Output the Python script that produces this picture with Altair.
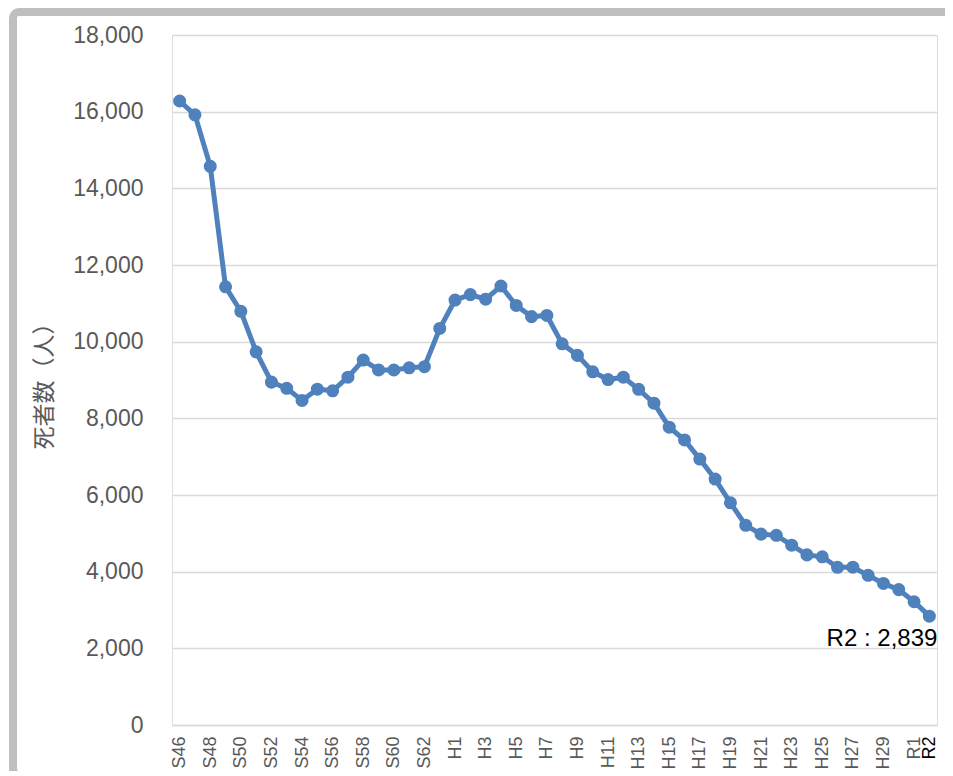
import altair as alt
import pandas as pd

categories = ["S46","S47","S48","S49","S50","S51","S52","S53","S54","S55","S56","S57","S58","S59","S60","S61","S62","S63",
              "H1","H2","H3","H4","H5","H6","H7","H8","H9","H10","H11","H12","H13","H14","H15","H16","H17","H18","H19","H20",
              "H21","H22","H23","H24","H25","H26","H27","H28","H29","H30","R1","R2"]
deaths = [16278,15918,14574,11432,10792,9734,8945,8783,8466,8760,8719,9073,9520,9262,9261,9317,9347,10344,
          11086,11227,11109,11452,10945,10653,10684,9944,9642,9214,9012,9073,8757,8396,7768,7436,6937,6415,5796,5209,
          4979,4948,4691,4438,4388,4113,4117,3904,3694,3532,3215,2839]
tick_labels = categories[::2] + ["R2"]
y_ticks = [0, 2000, 4000, 6000, 8000, 10000, 12000, 14000, 16000, 18000]
annotation = [{"cat": "R2", "val": 2839, "text": "R2 : 2,839"}]

df = pd.DataFrame({"cat": categories, "val": deaths})
FONT = "Liberation Sans, Arial, Noto Sans CJK JP"
BLUE = "#4F81BD"
GRAY = "#595959"

x_enc = alt.X("cat:N", sort=categories,
              scale=alt.Scale(domain=categories, paddingInner=0, paddingOuter=0),
              axis=alt.Axis(values=tick_labels, labelAngle=-90, labelFontSize=18, labelFont=FONT,
                            labelColor={"condition": {"test": "datum.value == 'R2'", "value": "black"}, "value": GRAY},
                            labelPadding=11, ticks=False, domain=True, domainColor="#D9D9D9", domainWidth=1.5,
                            grid=False, title=None, zindex=1))
y_enc = alt.Y("val:Q", scale=alt.Scale(domain=[0, 18000], nice=False),
              axis=alt.Axis(values=y_ticks, format=",.0f", labelFontSize=23, labelFont=FONT, labelColor=GRAY,
                            labelPadding=29, ticks=False, domain=False, gridColor="#D9D9D9", gridWidth=1.5,
                            title="死者数（人）", titleFont="Noto Sans CJK JP", titleFontSize=23,
                            titleFontWeight="normal", titleColor=GRAY, titlePadding=16))

base = alt.Chart(df)
line = base.mark_line(color=BLUE, strokeWidth=5).encode(x=x_enc, y=y_enc)
pts = base.mark_circle(color=BLUE, size=170, opacity=1).encode(x=x_enc, y=y_enc)

ann = alt.Chart(alt.Data(values=annotation)).mark_text(
    align="right", baseline="alphabetic", dx=8, dy=30, fontSize=24, font=FONT, color="black"
).encode(x=x_enc, y=y_enc, text="text:N")

border = alt.Chart(alt.Data(values=[{}])).mark_rect(
    fillOpacity=0, stroke="#BFBFBF", strokeWidth=8, cornerRadius=6
).encode(x=alt.value(-159), x2=alt.value(800), y=alt.value(-23), y2=alt.value(740))

chart = alt.layer(border, line, pts, ann).properties(
    width=765, height=690,
    autosize=alt.AutoSizeParams(type="none"),
    padding={"left": 164, "top": 27, "right": 8, "bottom": 46},
).configure_view(stroke=None).configure(background="white")

chart.save("out.html", embed_options={"renderer": "svg", "actions": False})
